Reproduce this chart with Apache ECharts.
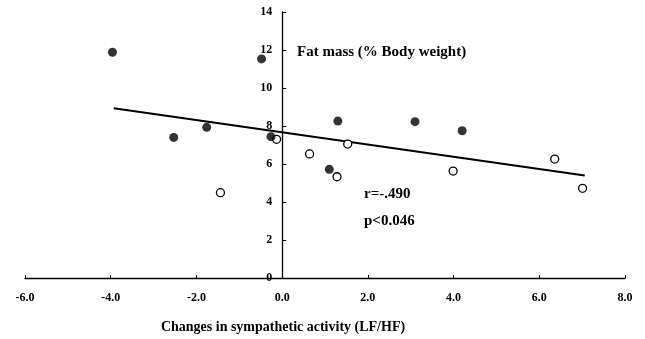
<!DOCTYPE html>
<html>
<head>
<meta charset="utf-8">
<script src="https://cdn.jsdelivr.net/npm/echarts@6/dist/echarts.min.js"></script>
<style>
  html, body { margin: 0; padding: 0; background: #fff; }
  #chart { width: 645px; height: 339px; }
</style>
</head>
<body>
<div id="chart"></div>
<script>
// filled circles
const filledX = [-3.96, -2.53, -1.76, -0.48, -0.26, 1.30, 3.10, 4.20, 1.10]
const filledY = [11.88, 7.40, 7.93, 11.53, 7.44, 8.26, 8.23, 7.75, 5.72]
// open circles
const openX = [-1.44, -0.13, 0.64, 1.28, 1.53, 3.99, 6.36, 7.01]
const openY = [4.49, 7.30, 6.53, 5.33, 7.05, 5.63, 6.26, 4.72]
// regression line ends
const fitX = [-3.93, 7.06]
const fitY = [8.93, 5.39]

const xTicks = [-6, 8, 2]   // min, max, step
const yTicks = [0, 14, 2]

const serif = 'Liberation Serif'
const gridLeft = 25
const gridRight = 20
const W = 645

const chart = echarts.init(document.getElementById('chart'))

// y axis sits on x = 0, move it (with its labels) there
const pxPerUnit = (W - gridLeft - gridRight) / (xTicks[1] - xTicks[0])
const yAxisOffset = -(0 - xTicks[0]) * pxPerUnit

chart.setOption({
  animation: false,
  backgroundColor: '#fff',
  grid: {
    left: gridLeft,
    right: gridRight,
    top: 12,
    bottom: 61
  },
  xAxis: {
    type: 'value',
    min: xTicks[0],
    max: xTicks[1],
    interval: xTicks[2],
    axisLine: { onZero: false, lineStyle: { color: '#000', width: 1.3 } },
    axisTick: { inside: true, length: 3, lineStyle: { color: '#000' } },
    axisLabel: {
      margin: 14,
      fontFamily: serif,
      fontWeight: 'bold',
      fontSize: 12,
      color: '#000',
      formatter: v => v.toFixed(1)
    },
    splitLine: { show: false }
  },
  yAxis: {
    type: 'value',
    min: yTicks[0],
    max: yTicks[1],
    interval: yTicks[2],
    offset: yAxisOffset,
    axisLine: { show: true, onZero: false, lineStyle: { color: '#000', width: 1.3 } },
    axisTick: { show: true, inside: true, length: 4, lineStyle: { color: '#000' } },
    axisLabel: {
      margin: 10,
      fontFamily: serif,
      fontWeight: 'bold',
      fontSize: 12,
      color: '#000'
    },
    splitLine: { show: false }
  },
  graphic: [
    {
      type: 'text',
      left: 297,
      top: 45,
      style: { text: 'Fat mass (% Body weight)', font: 'bold 15px "Liberation Serif"', fill: '#000' }
    },
    {
      type: 'text',
      left: 364,
      top: 187,
      style: { text: 'r=-.490', font: 'bold 15px "Liberation Serif"', fill: '#000' }
    },
    {
      type: 'text',
      left: 364,
      top: 214,
      style: { text: 'p<0.046', font: 'bold 15px "Liberation Serif"', fill: '#000' }
    },
    {
      type: 'text',
      x: 283,
      y: 327,
      style: {
        text: 'Changes in sympathetic activity (LF/HF)',
        font: 'bold 14px "Liberation Serif"',
        fill: '#000',
        align: 'center',
        verticalAlign: 'middle'
      }
    }
  ],
  series: [
    {
      type: 'line',
      data: fitX.map((x, i) => [x, fitY[i]]),
      showSymbol: false,
      lineStyle: { color: '#000', width: 2 },
      z: 1
    },
    {
      type: 'scatter',
      data: filledX.map((x, i) => [x, filledY[i]]),
      symbol: 'circle',
      symbolSize: 9,
      itemStyle: { color: '#000' },
      z: 3
    },
    {
      type: 'scatter',
      data: openX.map((x, i) => [x, openY[i]]),
      symbol: 'circle',
      symbolSize: 8,
      itemStyle: { color: '#fff', borderColor: '#000', borderWidth: 1.3, opacity: 1 },
      z: 2
    }
  ]
})
</script>
</body>
</html>
